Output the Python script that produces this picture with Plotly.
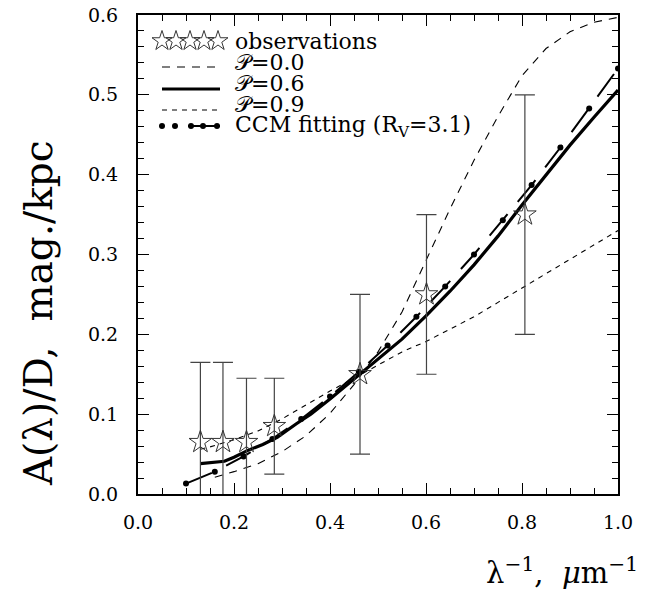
import plotly.graph_objects as go

# ---- data ----
obs_x = [0.130, 0.177, 0.226, 0.284, 0.4625, 0.601, 0.806]
obs_y = [0.065, 0.065, 0.065, 0.085, 0.150, 0.250, 0.350]
obs_err = [0.100, 0.100, 0.080, 0.060, 0.100, 0.100, 0.150]

p00_x = [0.16, 0.20, 0.25, 0.30, 0.35, 0.40, 0.45, 0.50, 0.55, 0.60, 0.65, 0.70, 0.75, 0.80, 0.85, 0.90, 0.95, 1.00]
p00_y = [0.021, 0.028, 0.038, 0.053, 0.073, 0.101, 0.137, 0.178, 0.228, 0.293, 0.357, 0.418, 0.473, 0.524, 0.558, 0.579, 0.591, 0.597]

p06_x = [0.13, 0.15, 0.18, 0.20, 0.23, 0.26, 0.29, 0.33, 0.36, 0.40, 0.46, 0.50, 0.55, 0.60, 0.65, 0.70, 0.75, 0.80, 0.85, 0.90, 0.95, 1.00]
p06_y = [0.038, 0.039, 0.041, 0.046, 0.055, 0.062, 0.071, 0.088, 0.100, 0.119, 0.149, 0.168, 0.194, 0.223, 0.254, 0.287, 0.323, 0.362, 0.400, 0.437, 0.472, 0.506]

p09_x = [0.13, 0.15, 0.20, 0.25, 0.30, 0.35, 0.40, 0.45, 0.50, 0.55, 0.60, 0.65, 0.70, 0.75, 0.80, 0.85, 0.90, 0.95, 1.00]
p09_y = [0.056, 0.059, 0.068, 0.079, 0.094, 0.112, 0.129, 0.145, 0.162, 0.178, 0.191, 0.206, 0.222, 0.240, 0.258, 0.276, 0.295, 0.313, 0.330]

ccm_x = [0.10, 0.16, 0.22, 0.28, 0.34, 0.40, 0.46, 0.52, 0.58, 0.64, 0.70, 0.76, 0.82, 0.88, 0.94, 1.00]
ccm_y = [0.013, 0.028, 0.047, 0.069, 0.094, 0.122, 0.153, 0.186, 0.222, 0.260, 0.300, 0.343, 0.387, 0.434, 0.483, 0.533]

x_ticks = [0.0, 0.2, 0.4, 0.6, 0.8, 1.0]
y_ticks = [0.0, 0.1, 0.2, 0.3, 0.4, 0.5, 0.6]

labels = ["observations", "\U0001D4AB=0.0", "\U0001D4AB=0.6", "\U0001D4AB=0.9", "CCM fitting (R<sub>V</sub>=3.1)"]

SERIF = "DejaVu Serif"
BLACK = "#000000"

fig = go.Figure()

fig.add_trace(go.Scatter(x=p00_x, y=p00_y, mode="lines",
                         line=dict(color=BLACK, width=1.1, dash="8px,7px"), showlegend=False))
fig.add_trace(go.Scatter(x=p09_x, y=p09_y, mode="lines",
                         line=dict(color=BLACK, width=1.1, dash="5px,5px"), showlegend=False))
fig.add_trace(go.Scatter(x=ccm_x, y=ccm_y, mode="lines+markers",
                         line=dict(color=BLACK, width=2, dash="28px,16px"),
                         marker=dict(color=BLACK, size=6), showlegend=False))
fig.add_trace(go.Scatter(x=p06_x, y=p06_y, mode="lines",
                         line=dict(color=BLACK, width=3.2), showlegend=False))
fig.add_trace(go.Scatter(x=obs_x, y=obs_y, mode="markers",
                         marker=dict(symbol="star-open", size=17, color="#333333", line=dict(width=1)),
                         error_y=dict(type="data", array=obs_err, visible=True, color="#444444",
                                      thickness=1.2, width=10),
                         showlegend=False))

# ---- hand-made legend in a pixel-scaled overlay axis ----
LX0, LX1 = 24, 82
rows = [26, 47, 68, 89, 111]
line_rows = [26, 52, 74, 95, 111]
fig.add_trace(go.Scatter(x=[24, 38, 52, 66, 80], y=[line_rows[0]] * 5, mode="markers",
                         marker=dict(symbol="star-open", size=15, color="#333333", line=dict(width=1)),
                         xaxis="x2", yaxis="y2", showlegend=False, hoverinfo="skip"))
fig.add_trace(go.Scatter(x=[LX0, LX1], y=[line_rows[1]] * 2, mode="lines",
                         line=dict(color=BLACK, width=1.1, dash="8px,7px"),
                         xaxis="x2", yaxis="y2", showlegend=False, hoverinfo="skip"))
fig.add_trace(go.Scatter(x=[LX0, LX1], y=[line_rows[2]] * 2, mode="lines",
                         line=dict(color=BLACK, width=3.2),
                         xaxis="x2", yaxis="y2", showlegend=False, hoverinfo="skip"))
fig.add_trace(go.Scatter(x=[LX0, LX1], y=[line_rows[3]] * 2, mode="lines",
                         line=dict(color=BLACK, width=1.1, dash="5px,5px"),
                         xaxis="x2", yaxis="y2", showlegend=False, hoverinfo="skip"))
fig.add_trace(go.Scatter(x=[50, 82], y=[line_rows[4]] * 2, mode="lines",
                         line=dict(color=BLACK, width=2),
                         xaxis="x2", yaxis="y2", showlegend=False, hoverinfo="skip"))
fig.add_trace(go.Scatter(x=[24, 37, 53, 65, 79], y=[line_rows[4]] * 5, mode="markers",
                         marker=dict(color=BLACK, size=6),
                         xaxis="x2", yaxis="y2", showlegend=False, hoverinfo="skip"))
for lab, ry in zip(labels, rows):
    fig.add_annotation(x=95, y=ry, xref="x2", yref="y2", text=lab, showarrow=False,
                       xanchor="left", yanchor="middle",
                       font=dict(family=SERIF, size=22, color=BLACK))

# axis titles
fig.add_annotation(x=-0.206, y=0.378, xref="paper", yref="paper",
                   text="A(λ)/D,  mag./kpc", textangle=-90, showarrow=False,
                   xanchor="center", yanchor="middle",
                   font=dict(family=SERIF, size=39, color=BLACK))
fig.add_annotation(x=1.046, y=-0.205, xref="paper", yref="paper",
                   text="λ<sup>−1</sup>,  <i>μ</i>m<sup>−1</sup>", showarrow=False,
                   xanchor="right", yanchor="bottom",
                   font=dict(family=SERIF, size=29, color=BLACK))

axis_common = dict(showline=True, linecolor=BLACK, linewidth=2, mirror="allticks",
                   ticks="inside", tickcolor=BLACK, tickwidth=1.3, ticklen=11,
                   showgrid=False, zeroline=False, ticklabeloverflow="allow", automargin=False,
                   tickfont=dict(family=SERIF, size=19, color=BLACK))

# page body has an 8px margin, so the figure is sized/offset to compensate
fig.update_layout(
    width=637, height=584,
    margin=dict(l=130, r=27, t=7, b=98, autoexpand=False),
    paper_bgcolor="white", plot_bgcolor="white",
    xaxis=dict(range=[0, 1], tickvals=x_ticks, ticktext=[f"{v:.1f}" for v in x_ticks],
               minor=dict(dtick=0.05, ticks="inside", ticklen=6, tickcolor=BLACK, tickwidth=1.2),
               ticklabelstandoff=10, **axis_common),
    yaxis=dict(range=[0, 0.6], tickvals=y_ticks, ticktext=[f"{v:.1f}" for v in y_ticks],
               minor=dict(dtick=0.02, ticks="inside", ticklen=6, tickcolor=BLACK, tickwidth=1.2),
               ticklabelstandoff=14, **axis_common),
    xaxis2=dict(overlaying="x", range=[0, 480], visible=False, fixedrange=True),
    yaxis2=dict(overlaying="y", range=[479, 0], visible=False, fixedrange=True),
    showlegend=False,
)

fig.write_html("out.html")
